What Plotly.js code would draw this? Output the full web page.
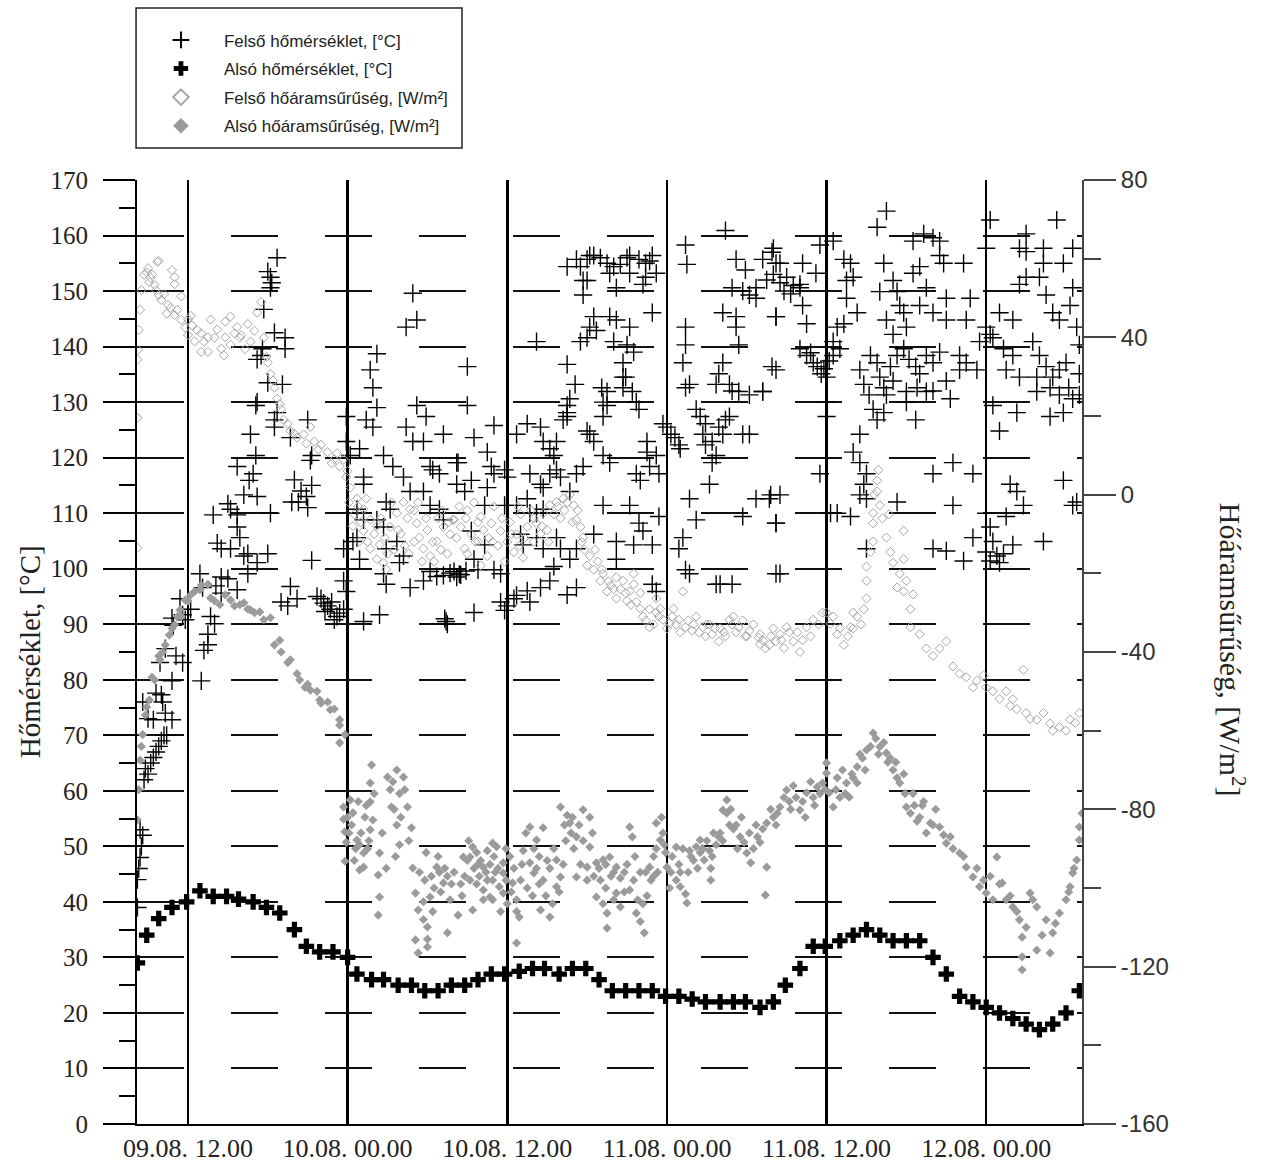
<!DOCTYPE html>
<html><head><meta charset="utf-8">
<script src="https://cdn.plot.ly/plotly-3.0.1.min.js"></script>
<style>html,body{margin:0;padding:0;background:#fff}#chart{width:1267px;height:1166px}</style>
</head><body><div id="chart"></div>
<script>
// time axis: hours counted from 09.08. 00.00
const tickHours = [12, 24, 36, 48, 60, 72];
const tickLabels = ["09.08. 12.00", "10.08. 00.00", "10.08. 12.00", "11.08. 00.00", "11.08. 12.00", "12.08. 00.00"];
const fluxTickVals = [-160, -120, -80, -40, 0, 40, 80];
const fluxTickText = ["-160", "-120", "-80", "-40", "0", "40", "80"];

const seriesNames = ["Felső hőmérséklet, [°C]", "Alsó hőmérséklet, [°C]", "Felső hőáramsűrűség, [W/m²]", "Alsó hőáramsűrűség, [W/m²]"];

// Alsó hőmérséklet [°C], hourly readings
const lowerTempHours = [8.2,8.9,9.8,10.8,11.9,12.9,13.9,14.9,15.8,16.9,17.9,18.9,20,20.9,21.9,22.9,24,24.7,25.8,26.7,27.8,28.8,29.8,30.8,31.8,32.8,33.8,34.8,35.8,36.9,37.9,38.8,39.9,40.9,41.9,42.9,43.9,44.9,45.9,46.9,47.9,48.9,49.9,50.9,52,53,53.9,55,56,56.9,58,59,59.9,61,62,63,64,65,66,67,68,69,70,71,72,73,74,75,76,77,78,79];
const lowerTemp = [29,34,37,39,40,42,41,41,40.5,40,39,38,35,32,31,31,30,27,26,26,25,25,24,24,25,25,26,27,27,27.5,28,28,27,28,28,26,24,24,24,24,23,23,22.5,22,22,22,22,21,22,25,28,32,32,33,34,35,34,33,33,33,30,27,23,22,21,20,19,18,17,18,20,24];

// Felső hőmérséklet [°C]: [hour, value]
const upperTemp = [
[8.2,39],[8.2,44],[8.3,46],[8.4,48],[8.5,50],[8.4,53],[8.6,52],
[8.7,62],[8.8,64],[9.0,63],[9.2,65],[9.4,66],[9.6,67],[9.8,68],[10.0,69],[10.2,70],[10.4,70],
[8.6,76],[9.0,73],[9.4,72.8],[10.8,72.8],[10.3,74],[9.6,77.6],[10.0,77.3],[10.1,76],
[10.8,79.8],[13.0,79.8],[9.9,83.1],[11.6,83.1],[11.1,84.3],[10.3,85.6],[13.2,85.3],[13.5,86.3],[13.5,88.2],
[10.8,91.1],[10.9,89.8],[11.4,94.6],[12.2,92.7],[11.6,91.7],[11.8,90.8],[13.7,91.4],[14.0,90.1],
[12.9,99.1],[15.7,96.2],[16.5,99.1],[14.5,95.6],[14.1,96.9],[13.1,96.6],[14.5,98.5],[15.0,98.2],
[14.2,104.6],[14.5,103.6],[15.2,103.6],[16.2,102.3],[16.5,102.7],[17.2,101.1],[18.0,102.7],
[13.9,109.7],[15.7,109.7],[15.7,107.5],[15.9,105.6],[15.0,111.7],[15.2,110.7],[16.2,113.3],[17.2,113],
[16.6,115.9],[16.9,117.1],[15.7,118.4],[17.1,120.4],[21.3,120.4],[21.2,119.5],[19.7,123.6],[16.7,124.2],
[18.5,125.5],[18.5,126.8],[21.0,126.8],[18.7,128.1],[17.1,129.4],[17.2,130],[18.0,133.5],[19.1,133.2],
[17.2,137.7],[17.5,138.4],[17.6,139.6],[19.3,139.6],[19.3,141.6],[18.5,142.5],[17.7,146.7],[18.2,150.6],[18.2,152.5],[18.0,153.5],[18.3,151.5],[18.7,156],
[20.0,116],[20.5,114],[20.9,113],[21.0,111],[20.3,112],[21.3,115],[19.8,112],[18.2,110],
[19.7,96.8],[19.0,94],[20.2,94.6],[19.5,93.3],[21.3,101.5],
[21.7,95],[22.0,94.6],[22.2,93.8],[22.5,93.3],[22.7,92.7],[23.0,90.8],[23.2,91.4],[22.8,94],[23.4,92],[22.3,92.3],
[28.9,149.6],[29.2,144.8],[28.4,143.5],[26.2,138.7],[25.7,135.8],[25.9,132.6],[26.2,129],[25.4,126.8],[25.9,125.5],
[23.9,127.4],[23.9,122.9],[24.2,120.4],[24.9,121.6],[25.2,115.2],[26.7,120.4],[27.4,118.4],[28.4,125.5],[28.9,122.9],
[29.2,129.4],[29.9,127.4],[31.2,124.2],[32.2,119.1],[32.2,115.2],[29.7,122.9],[30.2,118.4],[28.2,116.5],[28.7,113.9],
[30.4,117.8],[30.9,117.1],[29.7,113.9],[30.2,111.4],[30.9,110.7],[31.2,108.8],[25.2,116.5],[26.9,112],[27.2,110.7],
[26.2,108.8],[26.7,107.5],[24.7,110.7],[25.2,108.8],[24.7,105.6],[24.4,104.9],[24.9,101.7],[23.7,103.6],[26.9,103.6],
[27.7,104.9],[28.2,102.3],[27.9,101.1],[26.7,99.1],[26.9,97.2],[28.7,96.6],[29.7,97.8],
[30.2,99.5],[30.7,98.6],[31.2,98.8],[31.7,99.2],[32.2,98.5],[32.4,99],
[23.7,97.8],[23.9,95.9],[23.7,92.7],[25.2,90.5],[26.4,91.7],[31.4,90.5],[31.5,90],[31.3,91],
[33.0,136.4],[33.0,129.4],[35.0,125.8],[33.5,123.6],[34.5,121],[34.8,118.4],[35.0,117.1],[32.3,119.1],[33.3,115.9],
[32.8,113.9],[34.5,114.6],[35.8,117.8],[36.0,116.5],[35.8,111.4],[34.3,111.4],[33.3,106.8],[34.3,104.3],[33.5,101.7],
[32.0,99.5],[32.5,98.9],[32.9,99.6],[33.8,99.8],[33.5,92.1],[35.5,94],[36.0,93.3],[36.5,94.6],[36.7,95.2],[35.8,92.5],
[35.0,99.8],[35.5,99.1],[37.7,94],[37.5,96],[38.5,96.6],[39.2,97.8],[39.5,100.4],[38.2,110],[37.7,110],[38.7,110.7],
[36.7,111.4],[37.5,112.6],[37.0,106.2],[37.2,104.3],[38.2,105.6],[38.7,103.6],[39.7,105.6],[40.0,103.6],[40.7,101.7],
[41.2,103.6],[40.5,95.3],[41.2,96.6],[37.7,117.1],[38.5,115.2],[38.7,114.6],[39.2,117.1],[39.7,117.8],[40.0,116.5],
[41.2,117.1],[41.7,118.4],[40.7,113.9],[36.7,124.2],[37.5,126.1],[38.5,125.5],[38.7,122.9],[39.2,121.6],[39.7,122.9],
[39.5,120.4],[40.2,126.8],[40.5,127.4],[40.5,129.4],[40.7,130.6],[40.5,128.1],[42.0,124.8],[42.5,122.9],[42.2,124.2],
[43.2,127.4],[43.5,129.4],[43.2,120.4],[43.7,119.1],[40.5,136.8],[41.1,133.2],[41.5,140.9],[38.2,140.9],[43.1,132.6],
[43.5,131.9],[44.7,134.5],[44.7,132.6],[43.2,130],[45.4,131.9],[45.9,128.7],[45.7,130],[44.7,137.1],[44.9,134.5],
[45.0,140.3],[45.5,139],[44.0,140.9],[45.2,143.5],[44.2,144.8],[43.7,145.4],[42.5,145.4],[42.7,142.9],[42.2,143.5],
[42.0,141.6],[46.9,146.1],[41.7,149.3],[41.7,151.9],[40.5,154.4],[41.2,155.7],[42.0,155.7],[42.5,156.4],[43.0,156],
[43.5,155],[44.0,154.4],[44.5,154.8],[45.2,156.4],[45.9,155.7],[46.4,155],[46.9,156.4],[47.2,153.2],[46.4,152.5],
[46.2,151.2],[42.0,151.9],[43.7,153.2],[45.2,153.2],[44.2,150.6],[41.5,154.4],[42.2,156.4],[45.0,156],[46.7,155.4],
[49.4,158.3],[49.5,154.8],[49.4,143.5],[49.4,140.3],[49.2,137.1],[49.7,133.2],[49.4,132.6],
[47.7,126.1],[48.0,125.5],[48.3,124.2],[48.6,123.6],[48.9,122.3],[49.0,121.6],[46.5,122.9],[46.5,121],[47.2,120.4],
[47.4,117.1],[46.7,118.4],[45.7,117.1],[46.0,115.9],[45.2,111.4],[45.9,108.2],[46.2,106.8],[45.5,104.3],[46.9,104.3],
[44.2,104.9],[44.2,101.7],[43.2,111.4],[42.5,106.2],[46.9,97.2],[47.2,95.9],[47.4,109.4],[49.7,112.6],[50.2,108.8],
[49.2,105.6],[48.9,103.6],[49.4,99.8],[49.7,99.1],[51.7,97.2],[52.9,97.2],[52.0,97.2],
[51.2,115.2],[51.4,119.1],[51.7,120.4],[50.9,122.3],[50.7,124.2],[51.4,122.9],[51.9,125.5],[52.4,126.8],[52.7,127.4],
[52.2,124.2],[53.7,124.2],[54.2,124.2],[50.2,128.7],[50.5,127.4],[50.9,126.1],[51.7,133.2],[52.7,133.2],[53.4,131.9],
[54.2,131.3],[55.2,131.9],[52.9,132],[52.2,137.1],[51.9,135.1],[55.9,136.4],[53.4,140.3],[53.2,145.4],[52.2,146.1],
[53.2,143.5],[56.2,145.4],[52.9,150.6],[53.7,150],[54.2,149.3],[54.7,148.7],[54.7,150.6],[53.2,155.7],[53.9,153.8],
[52.4,160.9],[55.2,155.7],[55.9,157],[56.2,155],[54.7,112.6],[53.7,109.4],[55.7,112.6],[56.2,108.2],[56.2,99.1],
[56.0,157.7],[56.5,155],[55.5,152],[56.0,153],[56.5,151.5],[57.0,152.5],[57.5,151],[58.0,150.6],[56.8,150],[57.3,149.5],[58.0,151.2],
[56.2,145.4],[58.2,155],[59.2,153.2],[59.5,158.3],[58.2,147.4],[58.5,144.1],
[58.0,139.6],[58.5,138.4],[59.0,137.1],[59.3,136.4],[59.6,135.1],[60.0,134.5],[58.8,138.9],[59.8,136],[60.2,137.4],[60.5,138.4],[61.0,139.6],
[60.0,130],[60.0,127.4],[56.2,135.8],[55.2,131.9],
[60.5,159],[61.3,155.7],[61.8,155],[62.0,152.5],[61.5,151.9],[61.5,148.7],[62.3,146.1],[61.3,144.1],[60.8,143.5],[60.5,140.9],
[63.8,161.5],[64.5,164.4],[64.3,155],[64.0,149.9],[65.0,151.9],[65.3,149.9],[65.5,147.4],[64.5,144.8],[65.8,146.1],[66.0,143.5],[65.0,142.2],
[66.5,159],[67.3,160.3],[68.0,159.6],[68.5,159],[68.5,156.4],[68.8,155],[70.3,155],[67.0,154.4],[66.5,153.2],
[67.5,150.6],[67.0,147.4],[68.0,146.1],[69.0,148.7],[69.0,144.8],[70.8,148.7],[70.5,144.8],
[63.3,138.4],[63.8,137.1],[64.0,134.5],[64.3,132.6],[64.8,136.4],[65.3,138.4],[65.8,139.6],[66.2,137.7],[66.7,136.4],[67.0,135.1],[67.5,138.4],[68.0,137.1],[68.5,139],[64.5,131.3],[65.0,133.8],[66.0,131.9],
[62.5,135.8],[62.8,133.2],[63.2,131.3],[63.5,128.7],[64.3,128.1],[63.8,126.8],
[66.8,132.6],[67.5,131.9],[68.0,132],[66.0,130],[66.7,126.8],
[69.3,130.6],[70.0,138.4],[70.5,137.1],[71.3,135.8],[70.0,135.8],[69.0,133.8],[71.5,140.9],[72.0,143.5],[72.3,142.2],
[72.3,162.8],[72.0,157.7],
[73.0,146.1],[74.0,144.8],[73.3,139.6],[74.0,138.4],[73.5,135.8],[74.5,134.5],[72.5,141.6],
[72.5,129.4],[73.0,124.8],[74.3,128.1],
[75.0,160.3],[75.0,157.1],[74.5,157.7],[74.5,151.2],[75.0,152.5],[76.0,152.5],[76.3,157.7],[76.3,155],[77.3,162.8],[77.8,155],[78.5,157.7],
[76.5,149.3],[77.0,146.1],[78.5,150.6],[77.5,144.8],[78.3,147.4],
[75.5,140.9],[76.0,138.4],[76.5,136.4],[77.0,134.5],[77.5,135.8],[78.0,137.1],[75.8,134.5],[76.8,132.6],[77.5,131.3],[78.2,132.6],[78.5,130.6],[79.0,131.3],[79.0,135.1],[79.0,140.3],[78.8,143.5],
[75.8,131.9],[76.8,127.4],[77.8,128.1],
[62.5,124.2],[62.0,121],[62.5,119.1],[63.0,117.1],[62.8,115.2],[62.5,113.3],[63.0,112.6],[59.5,117.1],[61.8,109.4],[60.3,110],[60.8,110],[65.3,112],[63.0,103.6],
[68.0,117.1],[69.5,119.1],[71.0,117.1],[69.5,111.4],[68.0,103.6],[69.0,103.2],[70.3,101.4],[71.0,105.6],
[72.0,110],[72.3,107.5],[72.5,104.9],[72.8,102.3],[73.0,101.1],[72.0,103],[72.3,101.4],[73.3,102.7],
[73.5,109.4],[73.8,115.2],[74.3,113.9],[74.8,111.4],[74.0,104.3],[76.3,104.9],[77.8,115.9],[78.8,112],[78.5,111.4],
[56.5,113.3],[55.8,113.3],[56.2,108.2],[56.5,99.1]
];

// Felső hőáramsűrűség [W/m²]: [hour, value]
const upperFlux = [
[8.2,-13.5],[8.2,19.5],[8.2,34.3],[8.25,36.8],[8.3,41.9],[8.4,47],[8.5,52],[8.7,55.9],[9.0,57.6],[9.2,55.1],[9.5,53.3],[9.7,59.2],[9.8,59.4],[9.8,50.8],[10.0,49.5],[10.5,48.2],[10.8,57.1],[11.0,55.3],[11.0,53.5],[11.0,45.7],[11.5,50.4],[11.5,44.4],[12.0,40.6],[12.0,44.5],[12.7,41.8],[13.2,38.9],[14.0,39.9],[14.5,37.1],[15.2,38.1],[15.7,42.6],[15.9,39.9],[16.5,43.4],[17.0,41.7],[17.2,46.3],[17.5,49],[16.7,38.9],[17.7,39.9],[14.7,35.4],[13.5,36.3],[13.0,36.3],[13.7,44.5],[15.2,45.3],
[8.9,56.5],[9.1,54],[9.3,56],[9.6,52],[10.2,51],[10.4,46],[10.7,47.5],[11.2,47],[11.8,42.5],[12.3,43],[12.5,39],[13.0,41],[13.5,40],[14.2,42],[14.8,40],[15.5,41],[16.0,40.5],[16.3,37],[12.2,45.5],[14.8,44],
[18.0,33.6],[18.2,30.7],[18.5,27.2],[18.7,24.4],[19.0,21.7],[19.2,19],[19.7,16.2],[20.2,14.5],[20.7,15.3],[21.2,17.2],[21.5,13.5],[22.0,12.7],[22.5,10.8],[23.0,9],[23.4,7.2],[23.7,9],
[17.9,35],[18.4,29],[18.9,23],[19.5,18],[20.0,15.5],[20.9,13],[21.8,11.5],[22.8,8],[23.2,10.5],
[23.9,4.5],[24.2,1.8],[24.7,-1],[25.2,-3.7],[25.7,-6.4],[25.2,-9.2],[24.9,-11.9],[25.7,-13.7],[26.2,-16.4],[26.7,-17.3],[26.4,-12.7],[27.2,-8.2],[27.7,-4.7],[28.2,-1.9],[28.7,-3.7],[29.2,-7.3],[29.4,-10.9],[29.7,-13.7],[30.2,-15.6],[30.7,-11.9],[31.2,-8.2],[31.7,-10.1],[31.9,-6.4],
[24.0,6],[24.1,-2],[24.5,-5],[25.0,-7],[26.0,-10],[26.9,-19],[27.5,-14],[28.0,-10],[28.5,-6],[29.0,-12],[30.0,-9],[30.5,-17],[31.0,-14],
[24.4,-8],[25.5,-12],[26.5,-6],[27.0,-15],[28.3,-13],[29.0,-4],[29.6,-17],[30.8,-6],[31.5,-15],
[24.8,-3],[25.4,-1],[26.2,-8],[26.8,-11],[27.3,-2],[27.8,-9],[28.6,-15],[29.3,-2],[29.9,-6],[30.4,-12],[31.1,-4],[31.6,-7],[32.4,-3],[32.9,-6],[33.6,-12],[34.2,-9],[34.9,-12],[35.6,-6],[36.3,-10],[36.8,-3],[37.3,-11],[38.0,-6],[38.6,-8],[39.1,-12],[39.8,-3],[40.5,-2],[41.3,-4],[41.6,-12],[42.0,-18],[42.6,-14],[43.1,-19],[43.6,-22],
[32.0,-6.4],[32.5,-8.2],[33.3,-10.1],[34.0,-5.6],[34.8,-7.3],[35.5,-9.2],[33.8,-11.9],[32.8,-13.7],[34.5,-15.6],[36.5,-14.6],[36.7,-10.1],[37.5,-8.2],[38.2,-7.3],[38.7,-4.7],[39.2,-2.7],[39.7,-1.9],[40.2,-1],[40.7,0],[41.0,-2.7],[41.2,-6.4],[41.5,-8.2],[41.7,-10.9],[42.2,-15.6],[42.5,-19.1],[43.0,-21.9],[43.5,-24.6],[44.2,-26.4],[44.7,-21.9],[45.5,-22.8],[45.7,-27.3],[46.2,-31],[46.7,-33.7],[47.2,-30],[47.7,-31.8],[48.2,-32.8],[48.9,-31.8],[49.4,-33.7],[49.9,-34.6],[50.7,-33.7],[51.4,-35.5],[51.9,-37.3],[52.7,-31.8],[53.4,-33.7],[54.2,-34.6],[54.9,-36.4],[55.4,-39.1],[56.2,-37.3],[49.2,-24.6],[47.2,-26.4],[45.2,-24.6],[43.2,-20.1],[44.2,-21],[45.5,-20.1],[46.7,-29.1],
[33.0,-4],[35.0,-3],[36.0,-12],[37.0,-5],[38.0,-12],[39.0,-9],[40.0,-6],[35.8,-17],[37.2,-16],[34.0,-18],[33.5,-2],
[32.2,-11],[33.0,-15],[33.8,-7],[34.6,-11],[35.3,-13],[36.2,-7],[36.9,-13],[37.8,-4],[38.5,-10],[39.5,-5],[40.3,-4],[40.9,-7],[41.8,-14],[42.8,-17],[43.8,-23],[44.5,-24],[45.0,-27],[46.0,-25],[47.5,-29],[48.5,-29],[50.2,-31],[51.0,-33],[52.3,-35],[53.0,-31],[53.9,-36],[55.0,-38],
[44.0,-24],[44.9,-25],[45.3,-28],[46.0,-29],[46.4,-32],[47.0,-33],[47.4,-31],[48.0,-34],[48.4,-31],[48.7,-33],[49.0,-35],[49.6,-32],[50.0,-33],[50.4,-35],[50.9,-36],[51.2,-33],[51.6,-34],[52.0,-34],[52.4,-36],[52.9,-33],[53.2,-35],[53.7,-32],[54.0,-36],[54.5,-33],[55.2,-37],[55.8,-36],[56.0,-34],[56.6,-37],[57.2,-35],[58.2,-37],[58.8,-36],[59.4,-33],[60.5,-31],[61.0,-34],[61.6,-36],[62.0,-30],[62.6,-33],
[55.0,-35.5],[55.7,-38.2],[56.5,-35.5],[57.0,-33.7],[57.5,-37.3],[58.0,-40],[58.5,-33.7],[59.0,-31.8],[59.7,-30],[60.3,-32.8],[60.8,-35.5],[61.3,-38.2],[61.8,-33.7],[62.3,-31],[62.8,-29.1],[63.0,-26.4],[63.0,-21.9],[63.0,-18.3],[63.3,-14.6],[63.5,-11.9],[63.5,-7.3],[63.5,-4.7],[63.8,0.8],[63.8,3.6],[63.9,6.3],[63.6,0],[64.0,-2.7],[64.5,-10.9],[64.8,-14.6],[65.0,-17.3],[65.5,-20.1],[65.3,-23.6],[65.8,-9.2],[65.8,-16.4],[66.0,-21.9],[65.8,-24.6],[66.3,-29.1],[66.5,-25.4],[66.3,-33.7],[67.0,-35.5],[67.5,-39.1],[68.0,-41],[68.5,-39.1],[69.0,-37.3],[69.5,-43.7],[70.0,-45.5],[70.5,-46.4],[71.3,-47.3],[72.0,-49],[72.5,-50],[73.0,-51.9],[73.8,-53.7],[74.3,-54.5],[74.8,-44.5],[75.0,-55.5],[75.8,-57.2],[76.3,-55.5],[76.8,-58.2],[77.5,-59.1],[78.3,-57.2],[79.0,-55.5],
[64.2,-6],[64.7,-5],[71.0,-49],[71.8,-46],[73.5,-50],[74.0,-52],[75.3,-57],[77.0,-60],[78.0,-60],[78.7,-58],[62.0,-34],[60.0,-30],[57.8,-35],[56.8,-39]
];

// Alsó hőáramsűrűség [W/m²]: [hour, value]
const lowerFlux = [
[8.2,-82.7],[8.3,-75],[8.4,-67.5],[8.6,-61],[8.8,-56],[9.1,-52.2],[9.5,-47.1],[9.9,-42],[10.3,-38.2],[10.6,-35.7],[11.0,-33.1],[11.4,-29.3],[11.8,-26.8],[12.2,-25.5],[12.9,-24.2],[13.7,-26.3],[14.4,-28],[15.2,-26.8],[15.9,-28],[16.7,-29.3],[17.4,-29.8],[18.2,-31.3],[18.9,-37],[19.7,-42],[20.4,-47.1],[21.2,-49.7],[21.9,-52.2],[22.7,-54.7],[23.4,-58.6],[23.8,-61],
[8.5,-64],[8.9,-54],[9.3,-46.4],[9.8,-41],[10.1,-40],[10.8,-34],[11.2,-31],[11.5,-31],[12.0,-27],[12.5,-24.6],[13.0,-23],[13.5,-22.8],[14.0,-27],[14.8,-25.5],[15.5,-28.3],[16.2,-27.5],[16.5,-29.1],[17.0,-30],[17.7,-31.8],[18.5,-38.2],[19.0,-40],[19.5,-42.7],[20.2,-45.5],[21.0,-48.2],[21.7,-50],[22.5,-52.7],[23.0,-54.5],[23.4,-57.2],[22.0,-53],[20.8,-49],
[23.4,-63.1],[23.7,-79.4],[23.7,-82.5],[23.8,-85.7],[23.9,-88.4],[23.8,-93.2],[24.2,-77.6],[24.4,-80.9],[24.7,-87.8],[25.2,-91.1],[25.5,-90],[24.9,-95.4],[25.2,-94.7],[25.8,-68.7],[25.7,-73.3],[25.7,-78.1],[25.9,-82.7],[25.7,-85.2],[26.4,-91.1],[26.3,-96.7],[26.4,-102.3],[26.3,-106.9],[27.0,-71.8],[27.2,-75],[27.3,-79.4],[27.7,-70],[28.2,-71.8],[28.5,-79.4],[27.7,-84],[27.9,-89],[28.8,-84.7],[28.9,-94.9],[29.1,-101.3],[29.3,-105.6],[29.7,-108],[30.0,-109.9],[29.1,-113.2],[29.3,-116.5],[30.0,-115],[30.0,-113],[29.7,-103.5],[30.2,-102.3],[30.7,-94.7],[30.9,-96],[31.2,-98.7],[31.5,-97],[31.5,-111.4],[32.3,-106.9],[32.7,-92.1],[33.0,-93],[33.2,-92.1],[33.4,-89.6],[33.7,-91],[34.0,-93],[34.2,-94.7],[33.2,-98],[33.7,-99],[34.2,-100.5],[34.7,-102.3],[34.5,-90.5],[34.9,-88.6],[35.2,-89.5],[34.9,-98],[35.4,-99.7],[33.4,-105.6],[34.2,-103],[34.9,-103],[35.7,-101.3],[35.7,-96.2],[35.7,-93.6],[36.4,-98.7],[36.7,-103],[36.9,-107.4],[36.7,-106],[36.7,-114],[37.2,-90.5],[37.4,-86],[37.7,-84.5],[37.7,-93.6],[38.0,-96.2],[38.2,-95],[38.2,-87.8],[38.7,-84.7],[38.5,-105.6],[39.2,-107.4],[38.7,-98],[39.2,-95],[39.7,-92.9],[40.0,-97.2],[39.7,-99.7],[40.0,-79.4],[40.5,-81.5],[40.7,-83.5],[40.9,-82],[41.2,-87],[41.7,-88],[42.2,-89.6],[42.4,-86],[41.7,-80.1],[42.2,-82],[42.0,-94.7],[42.7,-93.6],[43.2,-92.8],[43.7,-92.1],[41.2,-97.2],[42.7,-102.3],[43.2,-104],[43.5,-106.4],[43.5,-110.2],[44.2,-94.7],[44.5,-97.5],[45.2,-100.5],[44.2,-101.3],[44.5,-104.8],[45.2,-84.5],[45.4,-87],[45.7,-106.4],[46.0,-108.5],[46.3,-111.4],[45.8,-103],[46.2,-104],[46.5,-102],[46.7,-94.7],[47.0,-92],[47.2,-90],[47.5,-87.8],[47.2,-83.5],[47.6,-82],[47.7,-86],[48.0,-94.7],[48.3,-96],[48.7,-98],[49.0,-99.7],[49.4,-101.5],[49.5,-103.8],[48.7,-89.6],[49.2,-90],[49.7,-90.5],[50.2,-89.5],[50.7,-90],[51.2,-90.5],[51.7,-89],[52.2,-88],[51.5,-86],[52.0,-86],[52.5,-81],
[24.3,-84],[24.6,-90],[25.0,-86],[25.3,-82],[25.6,-88],[24.8,-78],[27.4,-73],[27.9,-76],[28.3,-75],[28.0,-82],[27.5,-80],
[29.8,-98],[30.3,-97],[30.5,-100],[30.8,-92],[31.0,-101],[31.3,-95],[31.8,-99],[32.0,-96],[32.5,-99],[32.8,-97],
[33.5,-95],[33.9,-97],[34.4,-96],[34.7,-94],[35.0,-92],[35.3,-95],[35.9,-98],[36.2,-92],[36.0,-104],[35.5,-106],
[36.5,-95],[37.0,-98],[37.5,-100],[38.0,-90],[38.4,-92],[38.9,-102],[39.4,-104],[39.9,-101],[40.2,-94],[40.4,-88],
[40.8,-86],[41.0,-90],[41.4,-84],[42.0,-98],[42.5,-97],[43.0,-98],[43.4,-100],[43.8,-97],[44.0,-103],[44.8,-96],
[45.0,-94],[45.5,-98],[46.0,-96],[46.8,-98],[47.3,-96],[47.9,-91],[48.4,-92],[48.9,-94],[49.6,-96],[50.0,-93],[50.3,-95],[51.0,-88],
[53.0,-85],[53.6,-82],[54.2,-86],[54.7,-84],[55.8,-80],[56.2,-84],[56.8,-77],[57.5,-74],[58.2,-78],[58.8,-73],[59.5,-76],[60.8,-72],[61.2,-70],[61.9,-71],[62.5,-66],
[65.2,-68],[65.8,-71],[66.5,-76],[67.0,-82],[67.3,-78],[68.0,-84],
[24.0,-82],[24.1,-86],[24.5,-93],[24.9,-89],[25.4,-79],[26.0,-76],[26.6,-86],[26.9,-95],[27.6,-92],[28.6,-88],[29.4,-96],[29.9,-91],[30.4,-106],[31.7,-103],[32.6,-102],[33.1,-88],[33.8,-94],[34.5,-98],[35.1,-96],[35.9,-90],[36.3,-101],[37.1,-94],[37.9,-102],[38.4,-99],[39.0,-93],[39.5,-90],[40.3,-84],[41.5,-94],[42.9,-95],[43.4,-94],[44.0,-96],[44.8,-101],[45.6,-92],[46.4,-96],[47.0,-97],[47.8,-89],[48.2,-100],[49.0,-96],[49.8,-92],[50.5,-91],[51.4,-92],[52.7,-84],[53.3,-90],[54.8,-87],[56.3,-81],[57.3,-80],[58.4,-82],[59.1,-79],[59.9,-75],[60.7,-75],[61.4,-76],[62.0,-72],[62.9,-70],[63.3,-64],[63.9,-66],[64.6,-68],[65.3,-72],[65.9,-76],[66.6,-79],[69.3,-87],[70.3,-92],[71.3,-95],[71.8,-98],[72.3,-97],[73.0,-99],[73.8,-102],[74.3,-106],[75.0,-110],[76.2,-112],[77.2,-109],[78.2,-101],[78.6,-95],
[50.5,-87.8],[50.8,-92.9],[51.3,-98],[51.3,-95],[51.9,-87],[52.2,-80.2],[52.5,-77.6],[52.8,-80],[53.2,-84],[53.5,-87],[53.8,-88.4],[54.0,-91.1],[54.3,-93.6],[54.5,-90],[55.0,-88.4],[55.2,-85],[55.4,-101.8],[55.5,-94.7],[55.5,-83.5],[56.0,-82],[56.5,-79.4],[57.0,-75.1],[57.2,-78],[57.7,-77],[58.0,-80.2],[58.5,-75.8],[59.0,-77],[59.3,-74.3],[59.7,-73.3],[60.0,-70.8],[60.0,-68.2],[60.2,-75.8],[60.5,-79.4],[61.0,-77],[61.5,-73.3],[61.7,-76.9],[62.3,-69.2],[62.3,-73.3],[62.7,-67],[63.0,-64.9],[63.5,-60.6],[63.7,-62],[64.0,-64.1],[64.3,-63],[64.5,-65.7],[64.8,-67],[65.0,-70],[65.5,-73.3],[66.0,-79.4],[66.3,-81],[66.8,-83],[67.2,-79],[67.5,-86],[67.8,-83.5],[68.2,-80],[68.5,-84.5],[68.8,-86.5],[69.0,-88.6],[69.5,-90],[70.0,-91.1],[70.5,-94.7],[71.0,-97.2],[71.5,-99.7],[72.0,-101.3],[72.5,-103],[72.8,-92.1],[73.2,-98.7],[73.5,-103],[74.0,-104.8],[74.5,-108.1],[74.7,-112.5],[74.7,-117.5],[74.7,-120.8],[75.3,-101.3],[75.5,-103],[75.8,-104.8],[75.8,-115.8],[76.5,-108.1],[76.8,-116.5],[77.0,-111.4],[77.5,-106.4],[78.0,-103],[78.3,-99.7],[78.5,-96.2],[78.8,-92.9],[79.0,-87.8],[79.0,-84.5],[79.2,-81]
];

const xs = a => a.map(p => p[0]);
const ys = a => a.map(p => p[1]);

const traces = [
  {x: xs(lowerFlux), y: ys(lowerFlux), yaxis: 'y2', type: 'scatter', mode: 'markers', name: seriesNames[3], legendrank: 4, legendgroup: 'd',
   marker: {symbol: 'diamond', size: 7, color: '#9b9b9b', line: {width: 0}}},
  {x: xs(upperFlux), y: ys(upperFlux), yaxis: 'y2', type: 'scatter', mode: 'markers', name: seriesNames[2], legendrank: 3, legendgroup: 'c',
   marker: {symbol: 'diamond-open', size: 7, color: '#a6a6a6', line: {width: 1, color: '#a6a6a6'}}},
  {x: xs(upperTemp), y: ys(upperTemp), type: 'scatter', mode: 'markers', name: seriesNames[0], legendrank: 1, legendgroup: 'a',
   marker: {symbol: 'cross-thin', size: 13, color: '#000', line: {width: 1.4, color: '#000'}}},
  {x: lowerTempHours, y: lowerTemp, type: 'scatter', mode: 'markers', name: seriesNames[1], legendrank: 2, legendgroup: 'b',
   marker: {symbol: 'cross', size: 13, color: '#000', line: {width: 0}}}
];

const serif = 'Liberation Serif, Times New Roman, serif';
const sans = 'Liberation Sans, Arial, sans-serif';

const layout = {
  width: 1267, height: 1166,
  margin: {l: 137, r: 185, t: 180, b: 42, pad: 0},
  paper_bgcolor: '#fff', plot_bgcolor: '#fff',
  showlegend: true,
  legend: {x: 0.001, xanchor: 'left', y: 1.167, yanchor: 'top', bgcolor: 'rgba(0,0,0,0)', borderwidth: 0,
           font: {family: sans, size: 17, color: '#222'}, itemwidth: 76, itemsizing: 'constant',
           traceorder: 'grouped', tracegroupgap: 3.5},
  xaxis: {range: [8.17, 79.2], tickmode: 'array', tickvals: tickHours, ticktext: tickLabels,
          showgrid: true, gridcolor: '#000', gridwidth: 2.5, ticks: '', showline: true, linecolor: '#000', linewidth: 2,
          zeroline: false, tickfont: {family: serif, size: 26, color: '#222'}},
  yaxis: {range: [0, 170], tick0: 0, dtick: 10, showgrid: true, gridcolor: '#111', gridwidth: 2, griddash: '47px,47px',
          ticks: 'outside', ticklen: 32, tickwidth: 2, tickcolor: '#000', showline: true, linecolor: '#000', linewidth: 2,
          zeroline: false, ticklabelstandoff: 10, tickfont: {family: serif, size: 25, color: '#222'},
          minor: {tick0: 0, dtick: 5, ticks: 'outside', ticklen: 16, tickwidth: 2, tickcolor: '#000', showgrid: false}},
  yaxis2: {overlaying: 'y', side: 'right', range: [-160, 80], tickmode: 'array', tickvals: fluxTickVals, ticktext: fluxTickText,
           showgrid: false, zeroline: false,
           ticks: 'outside', ticklen: 32, tickwidth: 2, tickcolor: '#444', showline: true, linecolor: '#444', linewidth: 2,
           tickfont: {family: sans, size: 24, color: '#333'},
           minor: {tickmode: 'linear', tick0: -160, dtick: 20, ticks: 'outside', ticklen: 17, tickwidth: 2, tickcolor: '#444', showgrid: false}},
  shapes: [
    {type: 'rect', xref: 'paper', yref: 'paper', x0: -0.001, x1: 0.3439, y0: 1.0339, y1: 1.1822,
     line: {color: '#222', width: 1.5}, fillcolor: 'rgba(0,0,0,0)'}
  ],
  annotations: [
    {text: 'Hőmérséklet, [°C]', xref: 'paper', yref: 'paper', x: -0.113, y: 0.5, textangle: -90, showarrow: false,
     xanchor: 'center', yanchor: 'middle', font: {family: serif, size: 29, color: '#222'}},
    {text: 'Hőáramsűrűség, [W/m<sup>2</sup>]', xref: 'paper', yref: 'paper', x: 1.159, y: 0.502, textangle: 90, showarrow: false,
     xanchor: 'center', yanchor: 'middle', font: {family: serif, size: 30, color: '#222'}}
  ]
};

Plotly.newPlot('chart', traces, layout, {staticPlot: true, displayModeBar: false});
</script>
</body></html>
